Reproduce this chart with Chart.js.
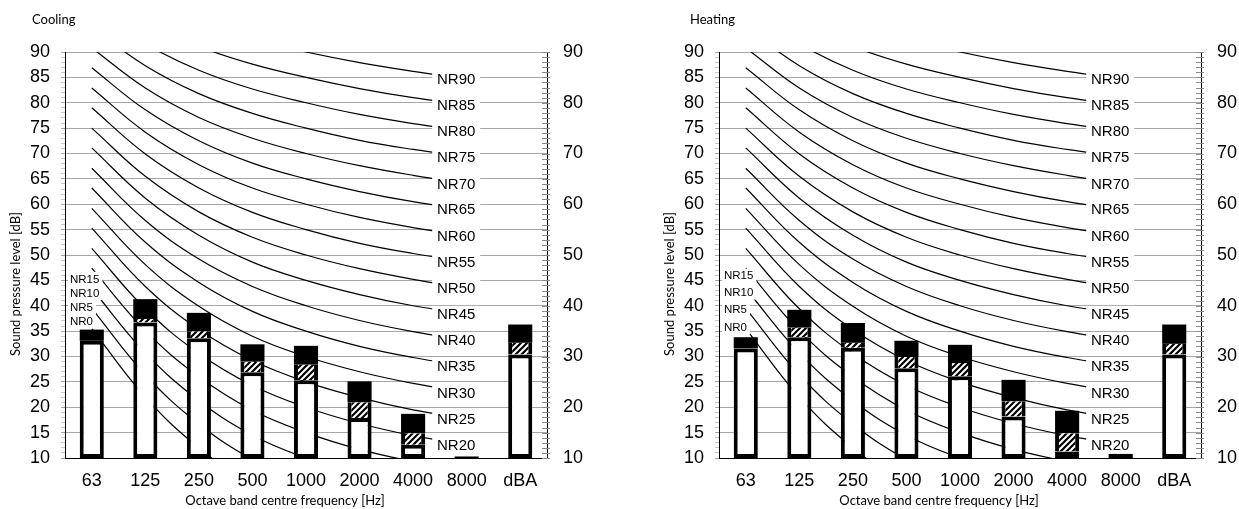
<!DOCTYPE html>
<html>
<head>
<meta charset="utf-8">
<script src="https://cdn.jsdelivr.net/npm/chart.js@4.4.0/dist/chart.umd.min.js"></script>
<style>
  html, body { margin: 0; padding: 0; background: #fff; overflow: hidden; }
  #wrap { position: relative; width: 1239px; height: 509px; overflow: hidden; }
  canvas { position: absolute; top: 0; }
  #coolingCanvas { left: 0; }
  #heatingCanvas { left: 654px; }
</style>
</head>
<body>
<div id="wrap">
  <canvas id="coolingCanvas" width="590" height="509"></canvas>
  <canvas id="heatingCanvas" width="590" height="509"></canvas>
</div>
<script>
const bands = ["63", "125", "250", "500", "1000", "2000", "4000", "8000", "dBA"];

// cooling: top of white part, top of hatched part, top of bar
const coolingWhite = [33.1, 36.7, 33.6, 26.9, 25.3, 17.9, 12.6, 10, 30.4];
const coolingHatch = [33.1, 37.4, 35.0, 29.0, 28.4, 21.0, 14.9, 10, 32.7];
const coolingTop = [35.3, 41.3, 38.6, 32.4, 32.1, 25.1, 18.7, 10.3, 36.3];

// heating
const heatingWhite = [31.6, 33.8, 31.7, 27.7, 26.1, 18.2, 11.3, 10, 30.4];
const heatingHatch = [31.6, 35.7, 32.7, 29.9, 28.7, 21.2, 14.9, 10, 32.5];
const heatingTop = [33.8, 39.2, 36.6, 33.1, 32.3, 25.4, 19.3, 10.8, 36.3];

// NR curves, 63 .. 8000 Hz
const nrNames = ["NR0", "NR5", "NR10", "NR15", "NR20", "NR25", "NR30", "NR35", "NR40",
    "NR45", "NR50", "NR55", "NR60", "NR65", "NR70", "NR75", "NR80", "NR85", "NR90"];
const nrCurves = [
    [35.5, 22.0, 12.0, 4.8, 0, -3.5, -6.1, -8.0],
    [39.5, 26.4, 16.7, 9.7, 5, 1.6, -1.0, -2.9],
    [43.4, 30.7, 21.3, 14.5, 10, 6.7, 4.2, 2.3],
    [47.4, 35.1, 26.0, 19.4, 15, 11.7, 9.3, 7.5],
    [51.3, 39.4, 30.6, 24.3, 20, 16.8, 14.4, 12.6],
    [55.3, 43.8, 35.3, 29.2, 25, 21.9, 19.5, 17.8],
    [59.2, 48.1, 39.9, 34.0, 30, 27.0, 24.7, 22.9],
    [63.2, 52.5, 44.6, 38.9, 35, 32.0, 29.8, 28.1],
    [67.1, 56.8, 49.2, 43.8, 40, 37.1, 34.9, 33.2],
    [71.1, 61.2, 53.9, 48.6, 45, 42.2, 40.0, 38.4],
    [75.0, 65.5, 58.5, 53.5, 50, 47.3, 45.2, 43.5],
    [79.0, 69.9, 63.2, 58.4, 55, 52.3, 50.3, 48.7],
    [82.9, 74.2, 67.8, 63.2, 60, 57.4, 55.4, 53.8],
    [86.9, 78.6, 72.5, 68.1, 65, 62.5, 60.5, 59.0],
    [90.8, 82.9, 77.1, 73.0, 70, 67.6, 65.7, 64.1],
    [94.8, 87.3, 81.8, 77.9, 75, 72.6, 70.8, 69.3],
    [98.7, 91.6, 86.4, 82.7, 80, 77.7, 75.9, 74.4],
    [102.7, 96.0, 91.1, 87.6, 85, 82.8, 81.0, 79.6],
    [106.6, 100.3, 95.7, 92.5, 90, 87.9, 86.2, 84.7]
];

// where the NR0..NR15 labels sit on the left
const coolingLeftLabels = [36.9, 39.6, 42.5, 45.3];
const heatingLeftLabels = [35.7, 39.2, 42.6, 45.9];

const armFont = "'Liberation Sans', Arial, sans-serif";
const titleFont = "Lato, 'Open Sans', sans-serif";

Chart.defaults.font.family = armFont;
Chart.defaults.color = "#000";

function makeHatch() {
    const c = document.createElement("canvas");
    c.width = 6;
    c.height = 6;
    const g = c.getContext("2d");
    g.fillStyle = "#fff";
    g.fillRect(0, 0, 6, 6);
    g.strokeStyle = "#000";
    g.lineWidth = 2.2;
    g.beginPath();
    g.moveTo(-1, 7); g.lineTo(7, -1);
    g.moveTo(-1, 1); g.lineTo(1, -1);
    g.moveTo(5, 7); g.lineTo(7, 5);
    g.stroke();
    return g.createPattern(c, "repeat");
}

const decor = {
    id: "decor",
    afterDatasetsDraw(chart, args, opts) {
        const { ctx, chartArea, scales } = chart;
        const x = scales.x;
        const y = scales.y;
        ctx.save();

        // minor ticks on the right axis
        ctx.strokeStyle = "#8c8c8c";
        ctx.lineWidth = 1;
        for (let v = 10; v <= 90; v++) {
            const py = Math.round(y.getPixelForValue(v)) + 0.5;
            ctx.beginPath();
            ctx.moveTo(chartArea.right - 5, py);
            ctx.lineTo(chartArea.right + 3, py);
            ctx.stroke();
        }

        // NR20..NR90 labels near 8000 Hz
        ctx.font = "15px " + armFont;
        ctx.textAlign = "center";
        ctx.textBaseline = "middle";
        nrNames.forEach((name, i) => {
            if (i < 4) return;
            const cx = x.getPixelForValue(7) - 10.5;
            const cy = y.getPixelForValue(nrCurves[i][7]);
            ctx.fillStyle = "#fff";
            ctx.fillRect(cx - 24, cy - 8, 48, 16);
            ctx.fillStyle = "#000";
            ctx.fillText(name, cx, cy + 1);
        });

        // NR0..NR15 labels on the left
        ctx.font = "11.5px " + armFont;
        ctx.textAlign = "left";
        opts.leftLabels.forEach((v, i) => {
            const lx = chartArea.left + 5;
            const cy = y.getPixelForValue(v);
            const w = ctx.measureText(nrNames[i]).width;
            ctx.fillStyle = "#fff";
            ctx.fillRect(lx - 2, cy - 7, w + 5, 14);
            ctx.fillStyle = "#000";
            ctx.fillText(nrNames[i], lx, cy + 0.5);
        });

        ctx.restore();
    },
    afterDraw(chart, args, opts) {
        const ctx = chart.ctx;
        ctx.save();
        ctx.fillStyle = "#000";
        ctx.font = "13px " + titleFont;
        ctx.textBaseline = "middle";

        ctx.textAlign = "left";
        ctx.fillText(opts.title, opts.titleX, 20);

        ctx.textAlign = "center";
        ctx.fillText("Octave band centre frequency [Hz]", 285, 501);

        ctx.translate(16, 284);
        ctx.rotate(-Math.PI / 2);
        ctx.fillText("Sound pressure level [dB]", 0, 0);
        ctx.restore();
    }
};

function buildChart(canvasId, title, titleX, white, hatch, top, leftLabels) {

    const hatchFill = makeHatch();

    const barCommon = {
        type: "bar",
        grouped: false,
        categoryPercentage: 0.9,
        barPercentage: 0.5,
        borderSkipped: false,
        order: 0
    };

    const datasets = [
        {
            ...barCommon,
            label: "upper",
            data: bands.map((b, i) => [hatch[i], top[i]]),
            backgroundColor: "#000",
            borderWidth: 0
        },
        {
            ...barCommon,
            label: "hatched",
            data: bands.map((b, i) => [white[i], hatch[i]]),
            backgroundColor: hatchFill,
            borderColor: "#000",
            borderWidth: { left: 4, right: 4, top: 0, bottom: 0 }
        },
        {
            ...barCommon,
            label: "lower",
            data: bands.map((b, i) => [10, white[i]]),
            backgroundColor: "#fff",
            borderColor: "#000",
            borderWidth: 4
        }
    ];

    nrCurves.forEach((curve, i) => {
        datasets.push({
            type: "line",
            label: nrNames[i],
            data: curve,
            borderColor: "#000",
            borderWidth: 1.2,
            pointRadius: 0,
            tension: 0.4,
            fill: false,
            order: 1
        });
    });

    return new Chart(document.getElementById(canvasId), {
        data: { labels: bands, datasets: datasets },
        plugins: [decor],
        options: {
            responsive: false,
            animation: false,
            layout: { padding: { top: 52, left: 0, right: 0, bottom: 0 } },
            elements: { line: { capBezierPoints: false } },
            plugins: {
                legend: { display: false },
                tooltip: { enabled: false },
                decor: { title: title, titleX: titleX, leftLabels: leftLabels }
            },
            scales: {
                x: {
                    offset: true,
                    grid: { display: false },
                    border: { display: true, color: "#000", width: 1 },
                    ticks: { font: { size: 18 }, color: "#000", padding: 4, maxRotation: 0, autoSkip: false },
                    afterFit(scale) { scale.height = 51; }
                },
                y: {
                    position: "left",
                    min: 10,
                    max: 90,
                    ticks: {
                        stepSize: 1,
                        autoSkip: false,
                        maxTicksLimit: 100,
                        font: { size: 18 },
                        color: "#000",
                        padding: 11,
                        callback: (v) => (v % 5 === 0 ? v : "")
                    },
                    grid: {
                        color: (c) => (c.tick.value % 5 === 0 && c.tick.value > 10 ? "#a6a6a6" : "rgba(0,0,0,0)"),
                        tickColor: (c) => (c.tick.value % 5 === 0 ? "#a6a6a6" : "#c8c8c8"),
                        tickLength: 4
                    },
                    border: { color: "#000", width: 1 },
                    afterFit(scale) { scale.width = 65; }
                },
                y2: {
                    position: "right",
                    min: 10,
                    max: 90,
                    ticks: { stepSize: 10, font: { size: 18 }, color: "#000", padding: 16 },
                    grid: { drawOnChartArea: false, drawTicks: false },
                    border: { color: "#000", width: 1 },
                    afterFit(scale) { scale.width = 43; }
                }
            }
        }
    });
}

buildChart("coolingCanvas", "Cooling", 32, coolingWhite, coolingHatch, coolingTop, coolingLeftLabels);
buildChart("heatingCanvas", "Heating", 36, heatingWhite, heatingHatch, heatingTop, heatingLeftLabels);
</script>
</body>
</html>
